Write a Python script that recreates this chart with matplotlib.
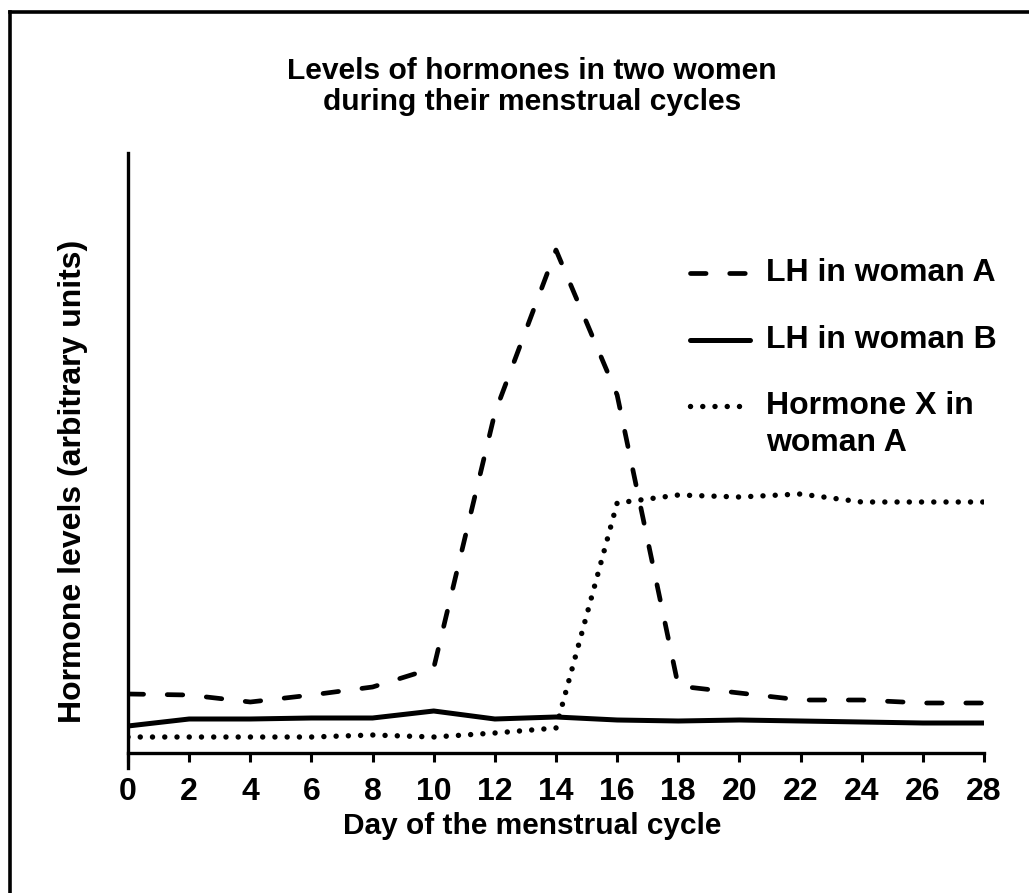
import matplotlib

matplotlib.use("Agg")
import matplotlib.pyplot as plt
from matplotlib.lines import Line2D

plt.rcParams["font.family"] = ["Liberation Sans", "DejaVu Sans"]
plt.rcParams["font.weight"] = "bold"

days = [0, 2, 4, 6, 8, 10, 12, 14, 16, 18, 20, 22, 24, 26, 28]
lh_woman_a = [5.9, 5.8, 5.1, 5.8, 6.6, 8.5, 34.0, 50.3, 35.8, 6.7, 6.0, 5.3, 5.3, 5.0, 5.0]
lh_woman_b = [2.7, 3.4, 3.4, 3.5, 3.5, 4.2, 3.4, 3.6, 3.3, 3.2, 3.3, 3.2, 3.1, 3.0, 3.0]
hormone_x_a = [1.6, 1.6, 1.6, 1.6, 1.8, 1.6, 2.0, 2.5, 25.0, 25.8, 25.6, 25.9, 25.1, 25.1, 25.1]

labels = ["LH in woman A", "LH in woman B", "Hormone X in\nwoman A"]
title = "Levels of hormones in two women\nduring their menstrual cycles"

W, H = 1029, 893
fig = plt.figure(figsize=(W / 100, H / 100), dpi=100)
ax = fig.add_axes([128 / W, (H - 768) / H, 856 / W, 615 / H])

dashed = dict(color="black", lw=3.4, linestyle=(0, (3.3, 5.0)), dash_capstyle="round")
solid = dict(color="black", lw=3.6, solid_capstyle="round", solid_joinstyle="round")
dotted = dict(color="black", lw=3.9, linestyle=(0, (0.01, 2.25)), dash_capstyle="round")
styles = [dashed, solid, dotted]

ax.plot(days, lh_woman_a, **dashed)
ax.plot(days, lh_woman_b, **solid)
ax.plot(days, hormone_x_a, **dotted)

ax.set_xlim(0, 28)
ax.set_ylim(-1.5, 60)
ax.spines["top"].set_visible(False)
ax.spines["right"].set_visible(False)
ax.spines["bottom"].set_position(("data", 0))
ax.spines["left"].set_linewidth(2.4)
ax.spines["bottom"].set_linewidth(2.4)
ax.set_yticks([])
ax.set_xticks(days)
ax.tick_params(axis="x", direction="out", length=6.5, width=2.2, pad=11, labelsize=23)
for t in ax.get_xticklabels():
    t.set_fontweight("bold")

ax.set_xlabel("Day of the menstrual cycle", fontsize=21.5, fontweight="bold")
ax.xaxis.set_label_coords((532 - 128) / 856, (768 - 826) / 615)
ax.xaxis.label.set_va("center")
ax.set_ylabel("Hormone levels (arbitrary units)", fontsize=23, fontweight="bold")
ax.yaxis.set_label_coords((73 - 128) / 856, (768 - 481) / 615)
ax.yaxis.label.set_va("center")

# legend drawn by hand so the dotted handle sits on the first text line
rows_px = [273, 340, 406]
for style, label, ypx in zip(styles, labels, rows_px):
    yf = (768 - ypx) / 615
    ax.add_line(Line2D([(690 - 128) / 856, (750 - 128) / 856], [yf, yf],
                       transform=ax.transAxes, clip_on=False, **style))
    if "\n" in label:
        ax.text((766 - 128) / 856, (768 - 391) / 615, label, transform=ax.transAxes,
                fontsize=23, fontweight="bold", va="top", linespacing=1.3)
    else:
        ax.text((766 - 128) / 856, yf, label, transform=ax.transAxes, fontsize=23,
                fontweight="bold", va="center")

fig.text(532 / W, (H - 86.5) / H, title, ha="center", va="center",
         fontsize=21.6, fontweight="bold", linespacing=1.1)

# frame around the picture (top and left edges only)
fig.add_artist(Line2D([9.5 / W, 9.5 / W], [0, (H - 11.5) / H], color="black", lw=2.6,
                      transform=fig.transFigure, solid_capstyle="projecting"))
fig.add_artist(Line2D([9.5 / W, 1], [(H - 11.5) / H, (H - 11.5) / H], color="black", lw=2.6,
                      transform=fig.transFigure, solid_capstyle="projecting"))

fig.savefig("out.png", dpi=100)
